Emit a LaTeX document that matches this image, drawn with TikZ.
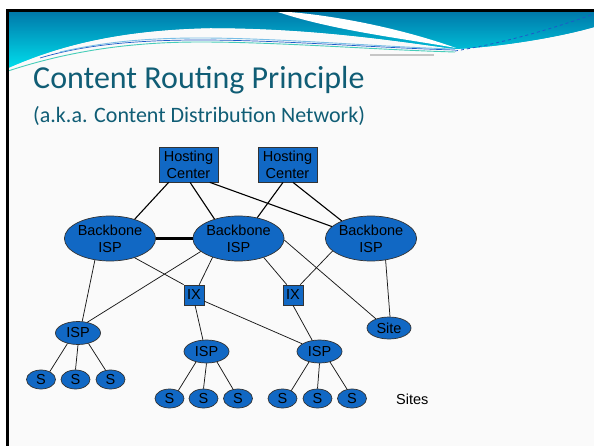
\documentclass[tikz,border=0pt]{standalone}
\usepackage{fontspec}
\setmainfont{Liberation Sans}
\newfontfamily\titlefont{Carlito}
\usetikzlibrary{shapes.geometric}
\definecolor{nodeblue}{RGB}{17,104,196}
\definecolor{titlecol}{RGB}{16,93,117}
\definecolor{bandtop}{RGB}{0,118,168}
\definecolor{bandbot}{RGB}{0,222,236}
\definecolor{pagebg}{RGB}{250,250,250}
\definecolor{wavelineA}{RGB}{30,90,200}
\definecolor{wavelineB}{RGB}{70,205,185}
\definecolor{wavelineC}{RGB}{120,190,230}
\begin{document}
\begin{tikzpicture}[x=1pt,y=-1pt,
  nodetext/.style={font=\fontsize{14.5}{17}\selectfont, text=black, align=center, inner sep=0pt},
  oval/.style={ellipse, draw=black!80, line width=0.7pt, fill=nodeblue, nodetext},
  bbone/.style={oval, minimum width=89, minimum height=45},
  ispn/.style={oval, minimum width=45, minimum height=23},
  sitesm/.style={oval, minimum width=29, minimum height=19},
  sitebig/.style={oval, minimum width=44, minimum height=22},
  hcbox/.style={rectangle, draw=black!80, line width=0.7pt, fill=nodeblue, nodetext, minimum width=59, minimum height=35},
  ixbox/.style={rectangle, draw=black!80, line width=0.7pt, fill=nodeblue, nodetext, minimum width=20, minimum height=20},
  link/.style={draw=black!90, line width=0.75pt},
  hclink/.style={draw=black, line width=1.1pt},
  boldlink/.style={draw=black, line width=2.2pt},
  titletext/.style={anchor=base west, inner sep=0pt, text=titlecol}
]
\useasboundingbox (0,0) rectangle (594,446);
\fill[white] (0,0) rectangle (594,446);
\fill[pagebg] (7,10) rectangle (594,446);

% top wave band (vertical gradient built from strips)
\begin{scope}
  \clip (8,11) -- (594,11) -- (594,27)
    .. controls (560,37) and (500,47) .. (455,49)
    .. controls (390,40) and (310,28) .. (210,28)
    .. controls (120,30) and (60,45) .. (8,68) -- cycle;
  \foreach \i in {0,...,58} {
    \pgfmathtruncatemacro\pct{100*\i/58}
    \fill[bandbot!\pct!bandtop] (8,10.5+\i) rectangle (594,12+\i);
  }
\end{scope}
\fill[white] (275,11) .. controls (330,14) and (400,28) .. (456,48)
  .. controls (400,38) and (330,30) .. (275,11) -- cycle;
\draw[wavelineB, line width=0.9pt] (8,71) .. controls (60,54) and (120,42) .. (200,42) .. controls (280,42) and (380,50) .. (455,52);
\draw[wavelineA, line width=0.7pt] (40,58) .. controls (80,46) and (130,40) .. (200,40) .. controls (280,40) and (380,48) .. (455,50);
\draw[wavelineC, line width=0.9pt] (60,52) .. controls (100,43) and (140,38) .. (200,38) .. controls (280,38) and (380,47) .. (455,49);
\draw[gray!45, line width=1.3pt] (370,55) -- (434,55);
\draw[wavelineA, line width=0.8pt, dashed] (455,51) .. controls (510,42) and (560,26) .. (594,14);
\draw[black, line width=3pt] (7.5,446) -- (7.5,10.5) -- (594,10.5);

% titles
\node[titletext, font=\titlefont\fontsize{32}{38}\selectfont] (title) at (33,89) {Content Routing Principle};
\node[titletext, font=\titlefont\fontsize{22}{26}\selectfont] (subtitle) at (33,123) {(a.k.a. Content Distribution Network)};

% nodes
\node[hcbox] (hc1) at (188.5,164.5) {Hosting\\Center};
\node[hcbox] (hc2) at (287.5,164.5) {Hosting\\Center};
\node[bbone] (bb1) at (110,238.5) {Backbone\\ISP};
\node[bbone] (bb2) at (238.5,238.5) {Backbone\\ISP};
\node[bbone] (bb3) at (371,238.5) {Backbone\\ISP};
\node[ixbox] (ix1) at (194,295) {IX};
\node[ixbox] (ix2) at (293,295) {IX};
\node[sitebig] (site) at (389,328) {Site};
\node[ispn] (ispl) at (78,333) {ISP};
\node[ispn] (ispm) at (206.5,351.5) {ISP};
\node[ispn] (ispr) at (319.5,351.5) {ISP};
\node[sitesm] (sl1) at (41,379.5) {S};
\node[sitesm] (sl2) at (75.5,379.5) {S};
\node[sitesm] (sl3) at (110.5,379.5) {S};
\node[sitesm] (sm1) at (169.5,398.5) {S};
\node[sitesm] (sm2) at (203.5,398.5) {S};
\node[sitesm] (sm3) at (238,398.5) {S};
\node[sitesm] (sr1) at (282.5,398.5) {S};
\node[sitesm] (sr2) at (317.5,398.5) {S};
\node[sitesm] (sr3) at (352,398.5) {S};
\node[nodetext, anchor=west] (sites) at (396,399) {Sites};

% connectors
\draw[hclink] (hc1.-138) -- (bb1.38);
\draw[hclink] (hc1.-85) -- (bb2.141);
\draw[hclink] (hc1.-40) -- (bb3.163);
\draw[hclink] (hc2.-104) -- (bb2.48);
\draw[hclink] (hc2.-73) -- (bb3.149);
\draw[boldlink] (bb1.east) -- (bb2.west);
\draw[link] (bb1.-38) -- (ix1.135);
\draw[link] (bb1.-125) -- (ispl.70);
\draw[link] (bb2.-161) -- (ispl.49);
\draw[link] (bb2.-144) -- (ix1.63);
\draw[link] (bb2.-37) -- (ix2.121);
\draw[link] (bb2.-2) -- (site.145);
\draw[link] (bb3.-162) -- (ix2.55);
\draw[link] (bb3.-56) -- (site.85);
\draw[link] (ix1.-84) -- (ispm.107);
\draw[link] (ix1.-31) -- (ispr.156);
\draw[link] (ix2.-90) -- (ispr.123);
\draw[link] (ispl.-135) -- (sl1.42);
\draw[link] (ispl.-90) -- (sl2.90);
\draw[link] (ispl.-45) -- (sl3.118);
\draw[link] (ispm.-135) -- (sm1.42);
\draw[link] (ispm.-90) -- (sm2.90);
\draw[link] (ispm.-45) -- (sm3.118);
\draw[link] (ispr.-135) -- (sr1.42);
\draw[link] (ispr.-90) -- (sr2.90);
\draw[link] (ispr.-45) -- (sr3.118);
\end{tikzpicture}
\end{document}
